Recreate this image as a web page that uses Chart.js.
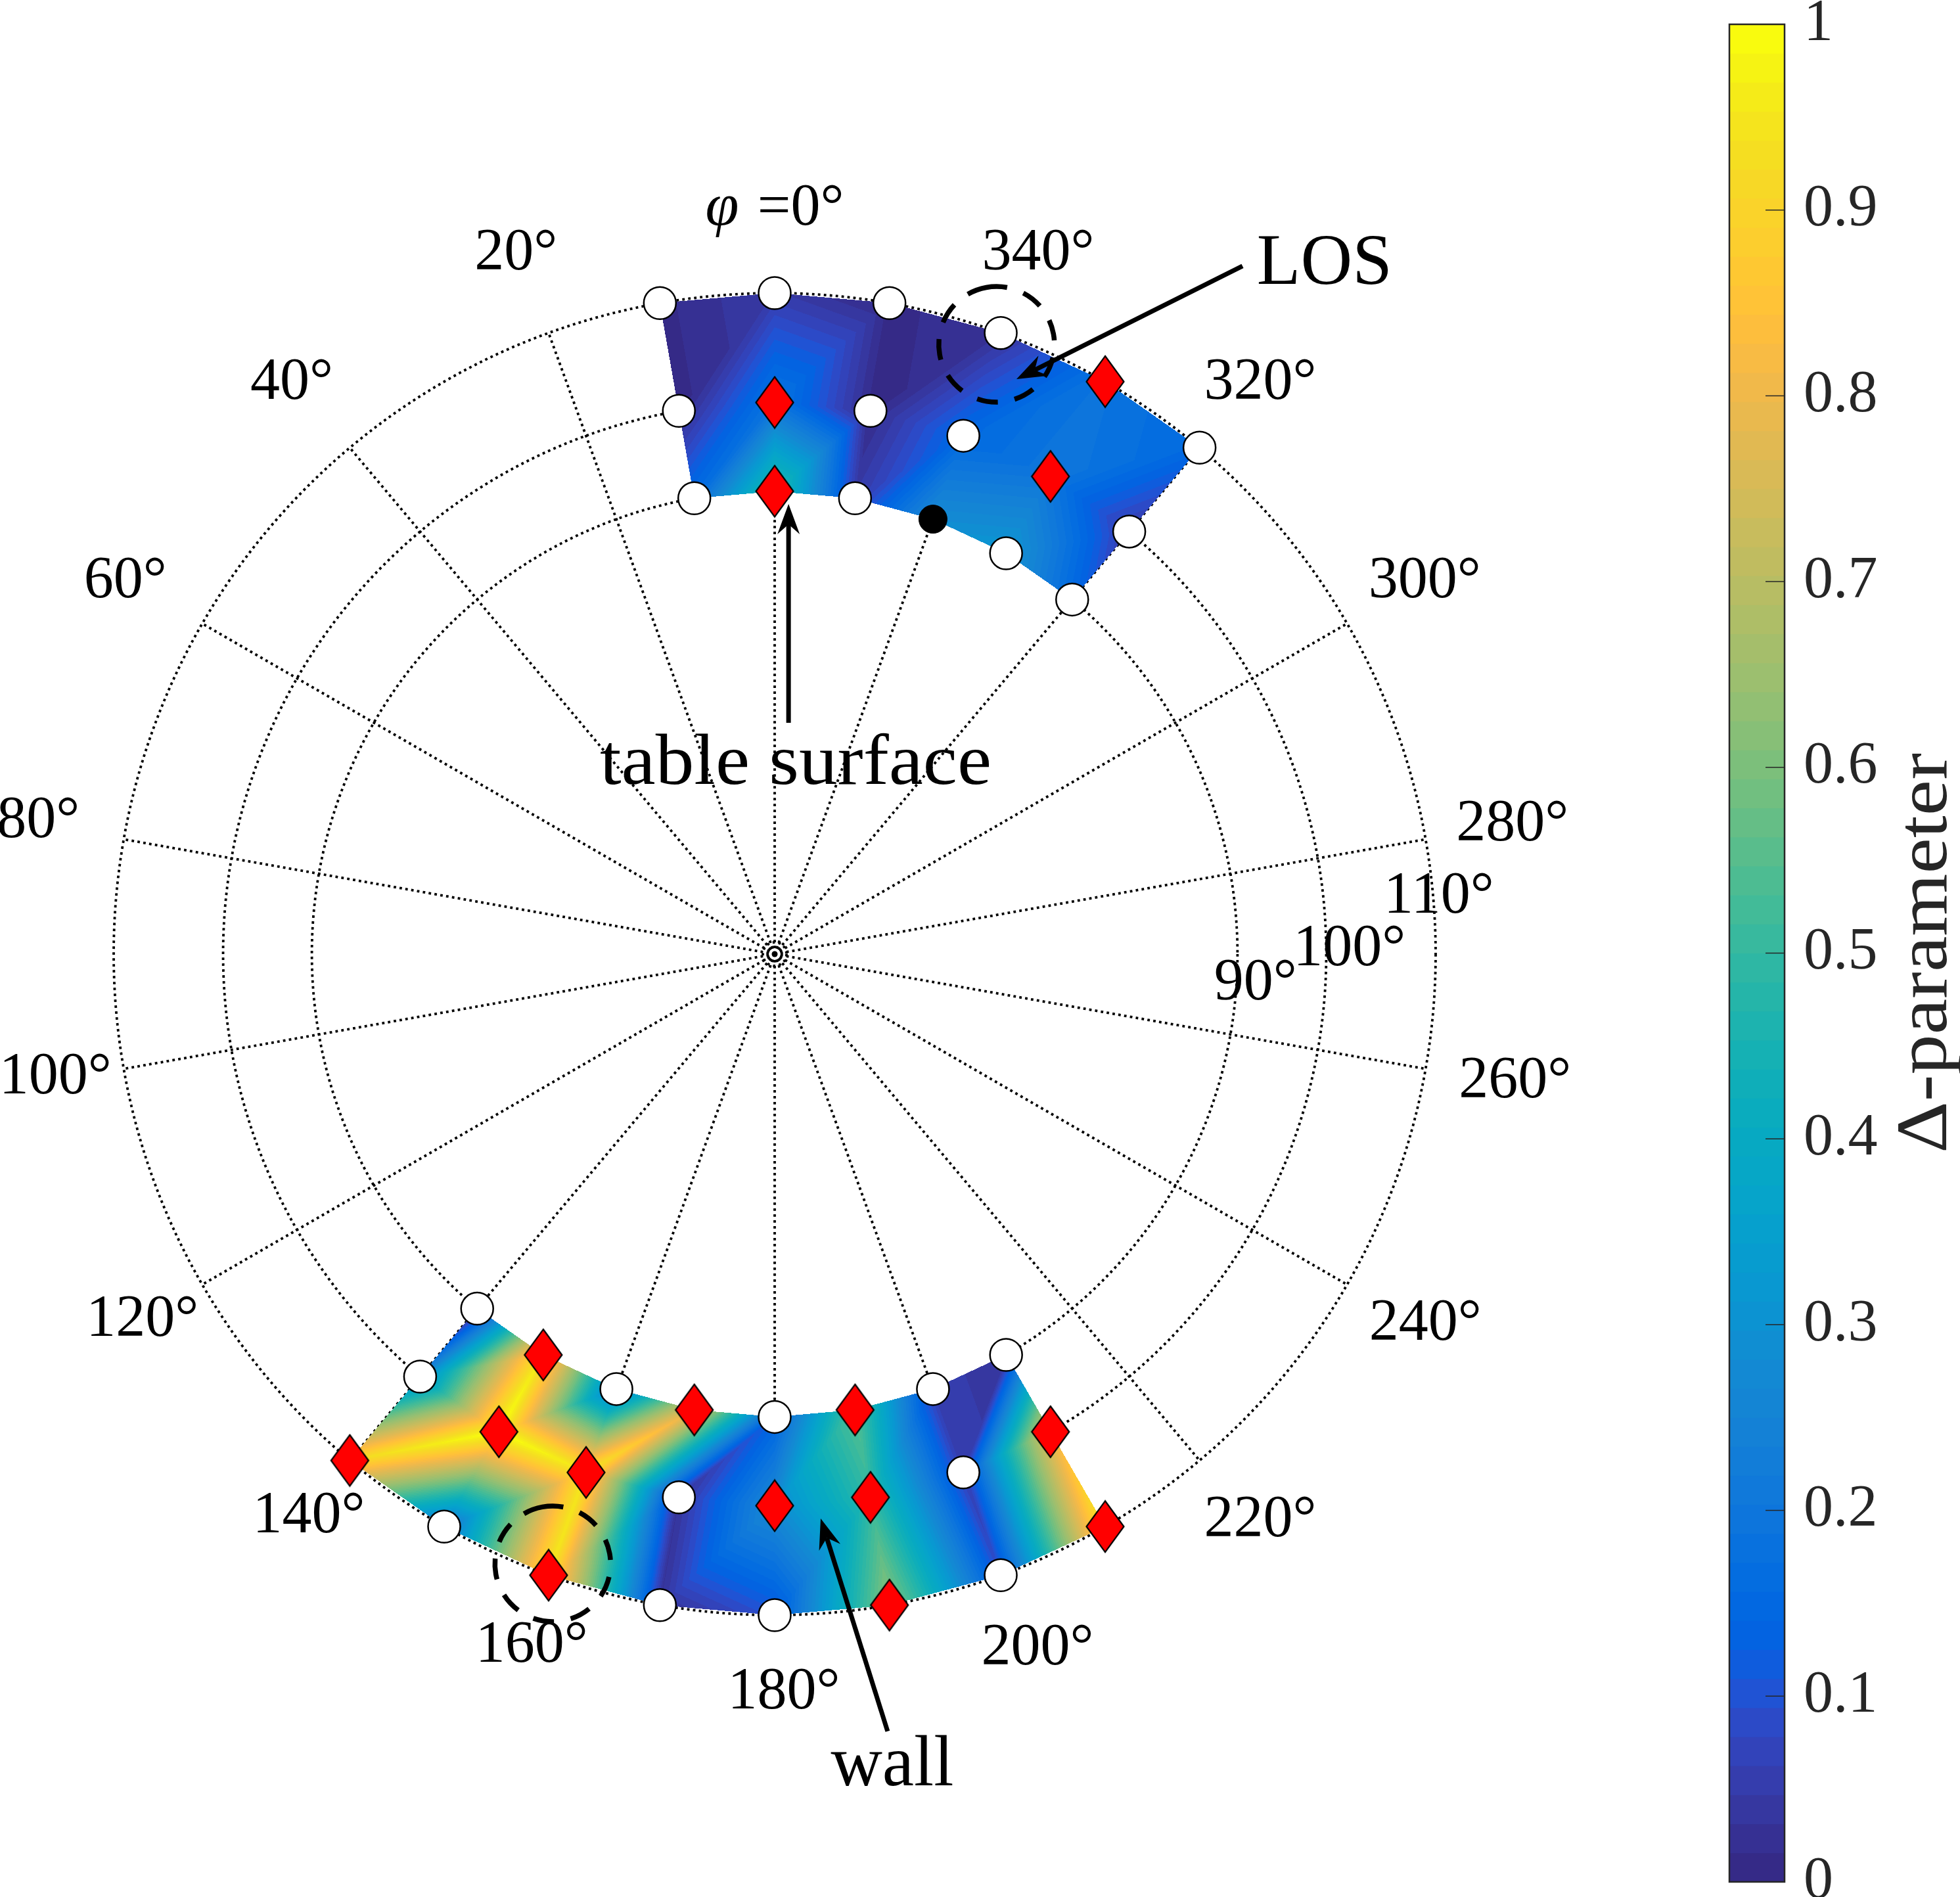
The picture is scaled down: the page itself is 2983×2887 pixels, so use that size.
<!DOCTYPE html>
<html><head><meta charset="utf-8">
<script src="https://cdn.jsdelivr.net/npm/chart.js@4.4.0/dist/chart.umd.min.js"></script>
<style>html,body{margin:0;padding:0;background:#fff;overflow:hidden}canvas{display:block}</style>
</head><body>
<canvas id="c" width="2983" height="2887"></canvas>
<script>
// ================= DATA =================
// Radial rings: elevation θ (deg), stereographic radius tan(θ/2)
const elevationTicks = [90, 100, 110];
const elevationTickLabels = ['90°', '100°', '110°'];
// Angular spokes: azimuth φ (deg)
const azimuthTicks = [0,20,40,60,80,100,120,140,160,180,200,220,240,260,280,300,320,340];
const azimuthTickLabels = ['φ =0°','20°','40°','60°','80°','100°','120°','140°','160°','180°','200°','220°','240°','260°','280°','300°','320°','340°'];
const colorbarTicks = [0,0.1,0.2,0.3,0.4,0.5,0.6,0.7,0.8,0.9,1];
const colorbarTickLabels = ['0','0.1','0.2','0.3','0.4','0.5','0.6','0.7','0.8','0.9','1'];
const colorbarTitle = 'Δ-parameter';

// Measured elevations (rows)
const measuredElevations = [90, 100, 110];

// Top cluster (table side): azimuths 320..10 (unwrapped to 370)
const topAzimuths = [320, 330, 340, 350, 360, 370];
const topDelta90  = [0.15, 0.32, 0.28, 0.05, 0.50, 0.16];
const topDelta100 = [0.05, 0.20, 0.15, 0.01, 0.19, 0.01];
const topDelta110 = [0.15, 0.19, 0.03, 0.01, 0.05, 0.01];
const topMarker90  = ['o','o','b','o','d','o'];
const topMarker100 = ['o','d','o','o','d','o'];
const topMarker110 = ['o','d','o','o','o','o'];

// Bottom cluster (wall side): azimuths 140..210
const bottomAzimuths = [140, 150, 160, 170, 180, 190, 200, 210];
const bottomDelta90  = [0.01, 0.95, 0.22, 0.78, 0.13, 0.55, 0.06, 0.03];
const bottomDelta100 = [0.27, 1.00, 0.95, 0.03, 0.28, 0.50, 0.06, 0.80];
const bottomDelta110 = [0.92, 0.18, 0.95, 0.03, 0.10, 0.62, 0.09, 0.95];
const bottomMarker90  = ['o','d','o','d','o','d','o','o'];
const bottomMarker100 = ['o','d','d','o','d','d','o','d'];
const bottomMarker110 = ['d','o','d','o','o','d','o','d'];

// Highlighted (dashed circle) positions
const highlightAzimuths = [340, 160];
const highlightElevations = [109, 109];

// Annotation texts
const annotationTexts = ['LOS', 'table surface', 'wall'];

// ================= LAYOUT / STYLE =================
const L = 1.661; // half-range of cartesian scales (radius units)
const layoutAnn = [
  {tx:1.188, ty:1.448, tw:206, from:[1.0108,1.4864], to:[0.5224,1.2422]},
  {tx:0.0454, ty:0.3677, tw:596, from:[0.030,0.4997], to:[0.030,0.9725]},
  {tx:0.254, ty:-1.796, tw:187, from:[0.244,-1.679], to:[0.0994,-1.2195]}
];
const rLabelPos = [[1.039,-0.064],[1.242,0.0099],[1.435,0.1235]];
const thetaLabelRadius = 1.61;
// pixel nudges of the angular labels (layout only)
const thetaLabelNudge = [[0,0],[-6,0],[-6,0],[-6,0],[-4,-5],[22,-9],[20,-10],[20,-12],[18,-12],[14,-10],
                         [12,-8],[10,-6],[8,-4],[10,-3],[6,0],[7,0],[10,0],[13,0]];
const cb = {left:2632, right:2716, top:37, bottom:2864, tickLen:29, labelX:2745, titleX:2962};
const FONT = '"Liberation Serif", "DejaVu Serif", serif';

const PARULA = [
[0.2081,0.1663,0.5292],[0.2116,0.1898,0.5777],[0.2123,0.2138,0.6270],[0.2081,0.2386,0.6771],
[0.1959,0.2645,0.7279],[0.1707,0.2919,0.7792],[0.1253,0.3242,0.8303],[0.0591,0.3598,0.8683],
[0.0117,0.3875,0.8820],[0.0060,0.4086,0.8828],[0.0165,0.4266,0.8786],[0.0329,0.4430,0.8720],
[0.0498,0.4586,0.8641],[0.0629,0.4737,0.8554],[0.0723,0.4887,0.8467],[0.0779,0.5040,0.8384],
[0.0793,0.5200,0.8312],[0.0749,0.5375,0.8263],[0.0641,0.5570,0.8240],[0.0488,0.5772,0.8228],
[0.0343,0.5966,0.8199],[0.0265,0.6137,0.8135],[0.0239,0.6287,0.8038],[0.0231,0.6418,0.7913],
[0.0228,0.6535,0.7768],[0.0267,0.6642,0.7607],[0.0384,0.6743,0.7436],[0.0590,0.6838,0.7254],
[0.0843,0.6928,0.7062],[0.1133,0.7015,0.6859],[0.1453,0.7098,0.6646],[0.1801,0.7177,0.6424],
[0.2178,0.7250,0.6193],[0.2586,0.7317,0.5954],[0.3022,0.7376,0.5712],[0.3482,0.7424,0.5473],
[0.3953,0.7459,0.5244],[0.4420,0.7481,0.5033],[0.4871,0.7491,0.4840],[0.5300,0.7491,0.4661],
[0.5709,0.7485,0.4494],[0.6099,0.7473,0.4337],[0.6473,0.7456,0.4188],[0.6834,0.7435,0.4044],
[0.7184,0.7411,0.3905],[0.7525,0.7384,0.3768],[0.7858,0.7356,0.3633],[0.8185,0.7327,0.3498],
[0.8507,0.7299,0.3360],[0.8824,0.7274,0.3217],[0.9139,0.7258,0.3063],[0.9450,0.7261,0.2886],
[0.9739,0.7314,0.2666],[0.9938,0.7455,0.2403],[0.9990,0.7653,0.2164],[0.9955,0.7861,0.1967],
[0.9880,0.8066,0.1794],[0.9789,0.8271,0.1633],[0.9697,0.8481,0.1475],[0.9626,0.8705,0.1309],
[0.9589,0.8949,0.1132],[0.9598,0.9218,0.0948],[0.9661,0.9514,0.0755],[0.9763,0.9831,0.0538]];

// ================= HELPERS =================
const DEG = Math.PI/180;
function rhoOf(el){ return Math.tan(el*DEG/2); }
function toXY(az, el){ const r = rhoOf(el); return {x:-r*Math.sin(az*DEG), y:r*Math.cos(az*DEG)}; }
function pidx(v){ let k = Math.floor(v*64); return k<0?0:(k>63?63:k); }
function pcss(k){ const c = PARULA[k]; return 'rgb('+Math.round(c[0]*255)+','+Math.round(c[1]*255)+','+Math.round(c[2]*255)+')'; }

const clusters = [
  {az: topAzimuths, el: measuredElevations, values:[topDelta90, topDelta100, topDelta110], markers:[topMarker90, topMarker100, topMarker110]},
  {az: bottomAzimuths, el: measuredElevations, values:[bottomDelta90, bottomDelta100, bottomDelta110], markers:[bottomMarker90, bottomMarker100, bottomMarker110]}
];
function collect(type){
  const pts = [];
  clusters.forEach(c => c.el.forEach((e,j) => c.az.forEach((a,i) => { if (c.markers[j][i] === type) pts.push(toXY(a, e)); })));
  return pts;
}

// diamond marker image
const diamond = document.createElement('canvas');
diamond.width = 62; diamond.height = 82;
(function(){ const g = diamond.getContext('2d'); g.beginPath(); g.moveTo(31,2); g.lineTo(59.5,41); g.lineTo(31,80); g.lineTo(2.5,41); g.closePath();
  g.fillStyle = '#ff0000'; g.fill(); g.lineWidth = 2.2; g.strokeStyle = '#000'; g.lineJoin='miter'; g.stroke(); })();

function P(chart, x, y){ return [chart.scales.x.getPixelForValue(x), chart.scales.y.getPixelForValue(y)]; }

function drawSurface(chart, cl){
  const ctx = chart.ctx;
  const N = cl.el.map((e,j) => cl.az.map((a,i) => { const p = toXY(a,e); const q = P(chart,p.x,p.y); return [q[0], q[1], cl.values[j][i]]; }));
  let minX=1e9,minY=1e9,maxX=-1e9,maxY=-1e9;
  N.forEach(r => r.forEach(p => { minX=Math.min(minX,p[0]); maxX=Math.max(maxX,p[0]); minY=Math.min(minY,p[1]); maxY=Math.max(maxY,p[1]); }));
  minX=Math.floor(minX)-1; minY=Math.floor(minY)-1; maxX=Math.ceil(maxX)+1; maxY=Math.ceil(maxY)+1;
  const W = maxX-minX+1, H = maxY-minY+1;
  const off = document.createElement('canvas'); off.width = W; off.height = H;
  const octx = off.getContext('2d'); const img = octx.createImageData(W,H); const d = img.data;
  const tris = [];
  for (let j=0;j<N.length-1;j++) for (let i=0;i<N[j].length-1;i++){
    const a=N[j][i], b=N[j][i+1], c=N[j+1][i], e=N[j+1][i+1];
    tris.push([a,b,c],[b,e,c]);
  }
  tris.forEach(([A,B,C]) => {
    const x0=Math.floor(Math.min(A[0],B[0],C[0])), x1=Math.ceil(Math.max(A[0],B[0],C[0]));
    const y0=Math.floor(Math.min(A[1],B[1],C[1])), y1=Math.ceil(Math.max(A[1],B[1],C[1]));
    const den=(B[1]-C[1])*(A[0]-C[0])+(C[0]-B[0])*(A[1]-C[1]);
    for (let y=y0;y<=y1;y++) for (let x=x0;x<=x1;x++){
      const X=x+0.5, Y=y+0.5;
      const w1=((B[1]-C[1])*(X-C[0])+(C[0]-B[0])*(Y-C[1]))/den;
      const w2=((C[1]-A[1])*(X-C[0])+(A[0]-C[0])*(Y-C[1]))/den;
      const w3=1-w1-w2;
      if (w1<-1e-3||w2<-1e-3||w3<-1e-3) continue;
      const v=w1*A[2]+w2*B[2]+w3*C[2];
      const col=PARULA[pidx(v)];
      const k=((y-minY)*W+(x-minX))*4;
      d[k]=Math.round(col[0]*255); d[k+1]=Math.round(col[1]*255); d[k+2]=Math.round(col[2]*255); d[k+3]=255;
    }
  });
  octx.putImageData(img,0,0);
  ctx.drawImage(off, minX, minY);
}

function drawGrid(chart){
  const ctx = chart.ctx; const c0 = P(chart,0,0);
  const unit = chart.scales.x.getPixelForValue(1) - c0[0];
  const outer = elevationTicks[elevationTicks.length-1];
  ctx.save();
  ctx.strokeStyle='#000'; ctx.lineWidth=3.8; ctx.setLineDash([3.8,5.2]);
  elevationTicks.forEach(e => { ctx.beginPath(); ctx.arc(c0[0],c0[1], rhoOf(e)*unit, 0, 2*Math.PI); ctx.stroke(); });
  azimuthTicks.forEach(a => { const p=toXY(a,outer); const q=P(chart,p.x,p.y); ctx.beginPath(); ctx.moveTo(c0[0],c0[1]); ctx.lineTo(q[0],q[1]); ctx.stroke(); });
  ctx.beginPath(); ctx.arc(c0[0],c0[1],18,0,2*Math.PI); ctx.stroke();
  ctx.setLineDash([]); ctx.lineWidth=3;
  ctx.beginPath(); ctx.arc(c0[0],c0[1],10.5,0,2*Math.PI); ctx.stroke();
  ctx.beginPath(); ctx.arc(c0[0],c0[1],4.5,0,2*Math.PI); ctx.fillStyle='#000'; ctx.fill();
  ctx.restore();
}

function stretchText(ctx, s, x, y, tw){
  const w = ctx.measureText(s).width; const sx = tw ? tw/w : 1;
  ctx.save(); ctx.translate(x,y); ctx.scale(sx,1); ctx.textAlign='center'; ctx.fillText(s,0,0); ctx.restore();
}

function drawArrow(ctx, x1,y1,x2,y2){
  const lw=7, headLen=46, half=17, notch=31;
  const ang=Math.atan2(y2-y1,x2-x1), ux=Math.cos(ang), uy=Math.sin(ang), nx=-uy, ny=ux;
  const bx=x2-ux*notch, by=y2-uy*notch;
  ctx.save(); ctx.strokeStyle='#000'; ctx.fillStyle='#000'; ctx.lineWidth=lw; ctx.setLineDash([]);
  ctx.beginPath(); ctx.moveTo(x1,y1); ctx.lineTo(bx,by); ctx.stroke();
  ctx.beginPath(); ctx.moveTo(x2,y2);
  ctx.lineTo(x2-ux*headLen+nx*half, y2-uy*headLen+ny*half);
  ctx.lineTo(bx,by);
  ctx.lineTo(x2-ux*headLen-nx*half, y2-uy*headLen-ny*half);
  ctx.closePath(); ctx.fill(); ctx.restore();
}

function drawOverlay(chart){
  const ctx = chart.ctx;
  ctx.save();
  // dashed highlight circles
  ctx.strokeStyle='#000'; ctx.lineWidth=7.5; ctx.setLineDash([32,26]);
  highlightAzimuths.forEach((a,i) => { const p=toXY(a,highlightElevations[i]); const q=P(chart,p.x,p.y);
    ctx.beginPath(); ctx.arc(q[0],q[1],88,-Math.PI/2-0.18,1.5*Math.PI-0.18); ctx.stroke(); });
  ctx.setLineDash([]);
  // theta labels
  ctx.fillStyle='#000'; ctx.textBaseline='middle'; ctx.textAlign='center';
  azimuthTicks.forEach((a,i) => {
    const x = -thetaLabelRadius*Math.sin(a*DEG), y = thetaLabelRadius*Math.cos(a*DEG);
    const q = P(chart,x,y); q[0] += thetaLabelNudge[i][0]; q[1] += thetaLabelNudge[i][1];
    const s = azimuthTickLabels[i];
    if (s.charAt(0) === 'φ') {
      ctx.font = 'italic 92px '+FONT; const w1 = ctx.measureText('φ').width;
      ctx.font = '90px '+FONT; const rest = s.slice(1); const w2 = ctx.measureText(rest).width;
      const gap = 6; const tot = w1+w2+gap; let x0 = q[0]-tot/2;
      ctx.textAlign='left';
      ctx.font = 'italic 92px '+FONT; ctx.fillText('φ', x0, q[1]);
      ctx.font = '90px '+FONT; ctx.fillText(rest, x0+w1+gap, q[1]);
      ctx.textAlign='center';
    } else {
      ctx.font = '90px '+FONT; ctx.fillText(s, q[0], q[1]);
    }
  });
  // r labels
  ctx.font = '90px '+FONT;
  elevationTickLabels.forEach((s,i) => { const q=P(chart,rLabelPos[i][0],rLabelPos[i][1]); ctx.fillText(s,q[0],q[1]); });
  // annotations
  ctx.textBaseline='alphabetic';
  annotationTexts.forEach((s,i) => {
    const a = layoutAnn[i];
    const f=P(chart,a.from[0],a.from[1]), t=P(chart,a.to[0],a.to[1]);
    drawArrow(ctx,f[0],f[1],t[0],t[1]);
    ctx.font='110px '+FONT; ctx.fillStyle='#000';
    const q=P(chart,a.tx,a.ty); stretchText(ctx,s,q[0],q[1],a.tw);
  });
  // colorbar
  const h=(cb.bottom-cb.top)/64;
  for (let k=0;k<64;k++){ ctx.fillStyle=pcss(k); ctx.fillRect(cb.left, cb.bottom-(k+1)*h-0.5, cb.right-cb.left, h+1); }
  ctx.strokeStyle='#262626'; ctx.lineWidth=2.5; ctx.strokeRect(cb.left,cb.top,cb.right-cb.left,cb.bottom-cb.top);
  ctx.lineWidth=1.5; ctx.fillStyle='#262626'; ctx.font='90px '+FONT; ctx.textAlign='left'; ctx.textBaseline='middle';
  colorbarTicks.forEach((t,i) => {
    const y = cb.bottom - t*(cb.bottom-cb.top);
    if (t>0 && t<1){ ctx.beginPath(); ctx.moveTo(cb.right,y); ctx.lineTo(cb.right-cb.tickLen,y); ctx.stroke(); }
    ctx.fillText(colorbarTickLabels[i], cb.labelX, y);
  });
  ctx.save(); ctx.translate(cb.titleX, (cb.top+cb.bottom)/2); ctx.rotate(-Math.PI/2);
  ctx.font='110px '+FONT; ctx.textBaseline='alphabetic';
  const tw = ctx.measureText(colorbarTitle).width; ctx.scale(609/tw,1); ctx.textAlign='center'; ctx.fillText(colorbarTitle,0,0);
  ctx.restore();
  ctx.restore();
}

const polarPlugin = {
  id:'polarSurface',
  beforeDraw(chart){ const c=chart.ctx; c.save(); c.fillStyle='#fff'; c.fillRect(0,0,chart.width,chart.height); c.restore(); },
  beforeDatasetsDraw(chart){ drawGrid(chart); clusters.forEach(cl => drawSurface(chart, cl)); },
  afterDatasetsDraw(chart){ drawOverlay(chart); }
};

new Chart(document.getElementById('c'), {
  type:'scatter',
  data:{ datasets:[
    {label:'no change', data: collect('o'), pointStyle:'circle', pointRadius:24.5, pointBackgroundColor:'#ffffff', pointBorderColor:'#000', pointBorderWidth:2.5, pointHoverRadius:24.5},
    {label:'change', data: collect('d'), pointStyle: diamond, pointRadius:30, pointHoverRadius:30},
    {label:'LOS', data: collect('b'), pointStyle:'circle', pointRadius:21.5, pointBackgroundColor:'#000', pointBorderColor:'#000', pointBorderWidth:1, pointHoverRadius:21.5}
  ]},
  options:{
    responsive:false, animation:false, devicePixelRatio:1,
    layout:{autoPadding:false, padding:{left:9, right:634, top:282, bottom:265}},
    scales:{ x:{type:'linear', min:-L, max:L, display:false}, y:{type:'linear', min:-L, max:L, display:false} },
    plugins:{ legend:{display:false}, tooltip:{enabled:false} },
    events:[]
  },
  plugins:[polarPlugin]
});
</script>
</body></html>
